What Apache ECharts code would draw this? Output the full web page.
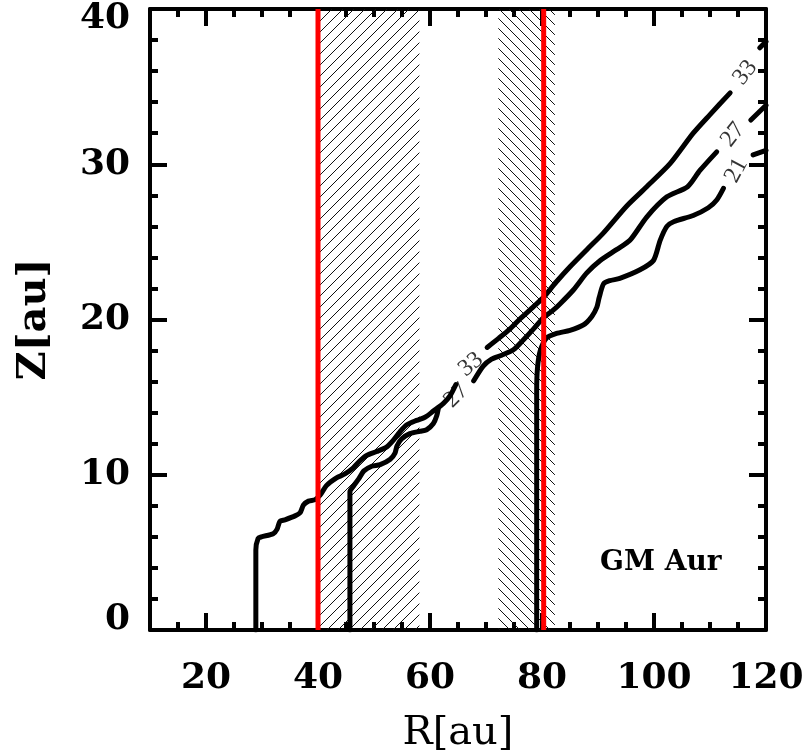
<!DOCTYPE html>
<html><head><meta charset="utf-8">
<script src="https://cdn.jsdelivr.net/npm/echarts@6/dist/echarts.min.js"></script>
<style>html,body{margin:0;padding:0;background:#fff}#c{width:807px;height:756px}</style>
</head><body><div id="c"></div>
<script>
// ---- data ----
const xMajorTicks = [20, 40, 60, 80, 100, 120];
const xMinorTicks = [15, 25, 30, 35, 45, 50, 55, 65, 70, 75, 85, 90, 95, 105, 110, 115];
const yTicks = [0, 10, 20, 30, 40];
const ringRadii = [40, 80.3];
const gapA = [40, 58.1];
const gapB = [72.2, 82.3];

const c33a = [[28.9,0],[28.9,5.15],[29.3,5.9],[29.9,6.0],[32.0,6.2],[32.7,6.5],[33.2,7.0],[34.1,7.1],[35.9,7.35],[36.8,7.55],[37.4,8.05],[38.3,8.3],[39.5,8.4],[40.4,8.7],[41.5,9.3],[43.3,9.8],[44.8,10.05],[46.3,10.45],[47.5,10.9],[48.7,11.25],[50.5,11.5],[52.3,11.8],[53.4,12.2],[54.6,12.75],[55.8,13.2],[57.6,13.5],[59.1,13.7],[60.6,14.1],[62.4,14.6],[63.6,15.1],[64.6,15.8]];
const c33b = [[70.2,18.2],[72.3,18.8],[74.3,19.4],[76.1,20.05],[78.4,20.8],[80.2,21.4],[82.5,22.4],[85.0,23.4],[88.0,24.5],[90.9,25.55],[95.1,27.3],[98.7,28.55],[102.9,30.05],[107.0,32.0],[110.0,33.2],[113.6,34.6]];
const c33c = [[118.9,37.5],[120,37.9]];

const c27a = [[45.7,0],[45.7,8.9],[46.4,9.3],[47.3,9.75],[48.2,10.25],[49.6,10.55],[51.1,10.65],[52.9,11.0],[53.75,11.4],[54.1,11.85],[54.9,12.3],[56.4,12.65],[58.2,12.8],[59.4,12.9],[60.6,13.3],[61.2,13.8],[61.5,14.3]];
const c27b = [[67.8,16.05],[69.5,17.0],[71.0,17.45],[72.8,17.7],[74.9,18.05],[76.7,18.7],[78.5,19.4],[80.2,20.1],[82.0,20.6],[83.2,21.0],[85.6,21.9],[88.0,23.0],[90.4,23.8],[93.3,24.5],[95.7,25.1],[98.7,26.6],[102.3,27.9],[106.0,28.55],[108.2,29.6],[111.2,30.8]];
const c27c = [[117.3,32.85],[120,33.8]];

const c21a = [[79.05,0],[79.05,15.4],[79.2,16.9],[79.7,18.0],[80.8,18.8],[82.6,19.1],[85.0,19.3],[87.4,19.65],[88.9,20.2],[89.8,20.8],[90.2,21.4],[91.0,22.3],[92.1,22.5],[93.9,22.65],[97.5,23.2],[99.9,23.8],[101.1,25.1],[102.3,26.0],[103.5,26.3],[107.0,26.7],[109.7,27.2],[111.2,27.7],[112.4,28.45]];
const c21b = [[117.7,30.6],[120,30.9]];

const labelText = ['33', '27', '33', '27', '21'];
const labelPos = [[67.3,17.1],[64.7,15.1],[116.3,35.9],[114.1,31.9],[114.7,29.6]];
const labelAngle = [40, 45, 52, 52, 62];

// ---- drawing ----
function hatch(size, dir) {
  const c = document.createElement('canvas');
  c.width = size; c.height = size;
  const g = c.getContext('2d');
  g.strokeStyle = '#111'; g.lineWidth = 1;
  g.beginPath();
  if (dir > 0) {
    g.moveTo(-1, size + 1); g.lineTo(size + 1, -1);
    g.moveTo(-2, 2); g.lineTo(2, -2);
    g.moveTo(size - 2, size + 2); g.lineTo(size + 2, size - 2);
  } else {
    g.moveTo(-1, -1); g.lineTo(size + 1, size + 1);
    g.moveTo(size - 2, -2); g.lineTo(size + 2, 2);
    g.moveTo(-2, size - 2); g.lineTo(2, size + 2);
  }
  g.stroke();
  return c;
}

const FONT = 'DejaVu Serif';
const chart = echarts.init(document.getElementById('c'), null, {renderer: 'canvas'});

const axisLine = {show: true, lineStyle: {color: '#000', width: 4}};
function xAx(pos, ticks, len, labels) {
  return {
    type: 'value', min: 10, max: 120, position: pos,
    axisLine: labels ? axisLine : (len > 10 ? axisLine : {show: false}),
    axisTick: {show: true, inside: true, length: len, customValues: ticks, lineStyle: {color: '#000', width: 4}},
    axisLabel: labels ? {show: true, customValues: xMajorTicks, fontFamily: FONT, fontWeight: 'bold', fontSize: 36, color: '#000', margin: 31} : {show: false},
    splitLine: {show: false},
    name: labels ? 'R[au]' : '',
    nameLocation: 'middle', nameGap: 84,
    nameTextStyle: {fontFamily: FONT, fontSize: 40, color: '#000'}
  };
}
function yAx(pos, labels) {
  return {
    type: 'value', min: 0, max: 40, interval: 10, position: pos,
    axisLine: axisLine,
    axisTick: {show: true, inside: true, length: 17, lineStyle: {color: '#000', width: 4}},
    minorTick: {show: true, splitNumber: 5, length: 8, lineStyle: {color: '#000', width: 4}},
    axisLabel: labels ? {show: true, fontFamily: FONT, fontWeight: 'bold', fontSize: 36, lineHeight: 20, color: '#000', margin: 20,
      verticalAlignMinLabel: 'bottom', verticalAlignMaxLabel: 'top'} : {show: false},
    splitLine: {show: false},
    name: labels ? 'Z[au]' : '',
    nameLocation: 'middle', nameGap: 95, nameRotate: 90,
    nameTextStyle: {fontFamily: FONT, fontWeight: 'bold', fontSize: 40, color: '#000'}
  };
}

function contour(d) {
  return {type: 'line', data: d, xAxisIndex: 0, yAxisIndex: 0, symbol: 'none', smooth: 0.25, z: 4,
    lineStyle: {color: '#000', width: 5, cap: 'round', join: 'round'}, silent: true};
}

const series = [
  {type: 'line', data: [], xAxisIndex: 0, yAxisIndex: 0, z: 1, silent: true,
    markArea: {silent: true, data: [
      [{xAxis: gapA[0], itemStyle: {color: {image: hatch(11, 1), repeat: 'repeat'}}}, {xAxis: gapA[1]}],
      [{xAxis: gapB[0], itemStyle: {color: {image: hatch(10, -1), repeat: 'repeat'}}}, {xAxis: gapB[1]}]
    ]}},
  contour(c33a), contour(c33b), contour(c33c),
  contour(c27a), contour(c27b), contour(c27c),
  contour(c21a), contour(c21b)
];
ringRadii.forEach(r => series.push({type: 'line', data: [[r, 0], [r, 40]], xAxisIndex: 0, yAxisIndex: 0, symbol: 'none', z: 6, silent: true,
  lineStyle: {color: '#ff0000', width: 5}}));
series.push({type: 'scatter', xAxisIndex: 0, yAxisIndex: 0, symbolSize: 0, z: 7, silent: true,
  data: labelPos.map((p, i) => ({value: p, label: {show: true, formatter: labelText[i], rotate: labelAngle[i], position: 'inside',
    fontFamily: 'Liberation Serif', fontSize: 24, color: '#000'}}))});

chart.setOption({
  animation: false,
  backgroundColor: '#fff',
  grid: {left: 150, right: 41, top: 9, bottom: 126, containLabel: false, outerBoundsMode: 'none'},
  xAxis: [xAx('bottom', xMajorTicks, 17, true), xAx('bottom', xMinorTicks, 8, false), xAx('top', xMajorTicks, 17, false), xAx('top', xMinorTicks, 8, false)],
  yAxis: [yAx('left', true), yAx('right', false)],
  graphic: [{type: 'text', left: 600, top: 549, style: {text: 'GM Aur', font: 'bold 28px "DejaVu Serif"', fill: '#000'}}],
  series: series
});
</script></body></html>
